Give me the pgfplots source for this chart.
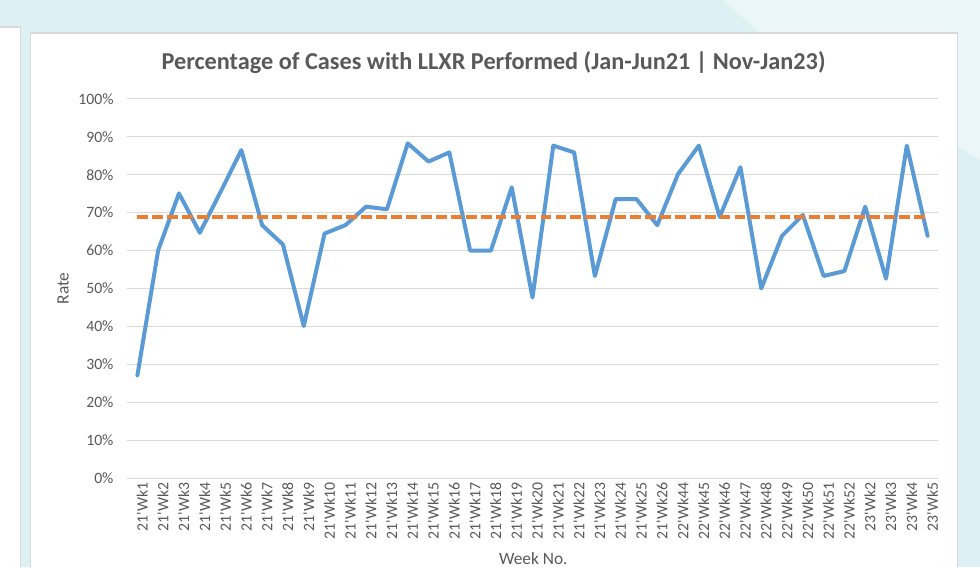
\documentclass[border=0pt]{standalone}
\usepackage{fontspec}
\setmainfont{Carlito}
\usepackage{pgfplots}
\pgfplotsset{compat=1.18}
\definecolor{bgblue}{HTML}{DDF0F4}
\definecolor{bglight}{HTML}{EAF6F8}
\definecolor{cardborder}{HTML}{D9D9D9}
\definecolor{gridc}{HTML}{D9D9D9}
\definecolor{txt}{HTML}{595959}
\definecolor{lblue}{HTML}{5B9BD5}
\definecolor{lorange}{HTML}{ED7D31}
\newcommand{\q}{\textquotesingle}
\begin{document}
\begin{tikzpicture}[x=0.75pt,y=0.75pt]
\fill[bgblue] (0,0) rectangle (980,567);
\fill[bglight] (723,567) -- (980,567) -- (980,407) -- (958,420) -- (760,534) -- cycle;
\filldraw[fill=white,draw=cardborder,line width=1.1pt] (-5,-5) rectangle (20.5,540);
\filldraw[fill=white,draw=cardborder,line width=1pt] (30.5,-5) rectangle (957.5,534);
\begin{axis}[
  at={(95.25pt,66.75pt)}, anchor=south west,
  scale only axis, width=608.25pt, height=284.25pt,
  xmin=-0.5, xmax=38.5, ymin=0, ymax=100,
  axis line style={draw=none},
  major tick length=0pt,
  ymajorgrids, grid style={gridc, line width=0.75pt},
  ytick={0,10,...,100},
  yticklabels={0\%,10\%,20\%,30\%,40\%,50\%,60\%,70\%,80\%,90\%,100\%},
  xtick={0,...,38},
  xticklabels={21\q Wk1,21\q Wk2,21\q Wk3,21\q Wk4,21\q Wk5,21\q Wk6,21\q Wk7,21\q Wk8,21\q Wk9,21\q Wk10,21\q Wk11,21\q Wk12,21\q Wk13,21\q Wk14,21\q Wk15,21\q Wk16,21\q Wk17,21\q Wk18,21\q Wk19,21\q Wk20,21\q Wk21,21\q Wk22,21\q Wk23,21\q Wk24,21\q Wk25,21\q Wk26,22\q Wk44,22\q Wk45,22\q Wk46,22\q Wk47,22\q Wk48,22\q Wk49,22\q Wk50,22\q Wk51,22\q Wk52,23\q Wk2,23\q Wk3,23\q Wk4,23\q Wk5},
  ticklabel style={font=\fontsize{11.8}{13}\selectfont, text=txt},
  yticklabel style={xshift=-6.6pt},
  xticklabel style={rotate=90, anchor=east, yshift=-3.6pt},
  ylabel={Rate}, xlabel={Week No.},
  label style={font=\fontsize{13}{15}\selectfont, text=txt},
  ylabel style={at={(axis description cs:-0.0789,0.5)}, anchor=center},
  xlabel style={at={(axis description cs:0.501,-0.228)}, anchor=base},
  title={Percentage of Cases with LLXR Performed (Jan-Jun21 | Nov-Jan23)},
  every axis title shift=0pt,
  title style={at={(axis description cs:0.452,1.0765)}, anchor=base, font=\bfseries\fontsize{18.2}{21}\selectfont, text=txt},
  clip=false,
]
\addplot[lblue, line width=3pt, line join=round, line cap=round] coordinates {
(0,27.1) (1,60.1) (2,75.1) (3,64.7) (4,75.5) (5,86.5) (6,66.7) (7,61.6) (8,40.1) (9,64.5)
(10,66.7) (11,71.6) (12,70.9) (13,88.3) (14,83.5) (15,85.9) (16,60.0) (17,60.0) (18,76.7) (19,47.6)
(20,87.7) (21,85.9) (22,53.3) (23,73.6) (24,73.6) (25,66.7) (26,80.2) (27,87.7) (28,68.9) (29,82.0)
(30,50.0) (31,63.9) (32,69.4) (33,53.3) (34,54.6) (35,71.6) (36,52.6) (37,87.7) (38,63.9)
};
\addplot[lorange, line width=3pt, dash pattern=on 8pt off 3.2pt] coordinates {
(0,68.9) (38,68.9)
};
\end{axis}
\pgfresetboundingbox
\useasboundingbox (0,0) rectangle (980,567);
\end{tikzpicture}
\end{document}
